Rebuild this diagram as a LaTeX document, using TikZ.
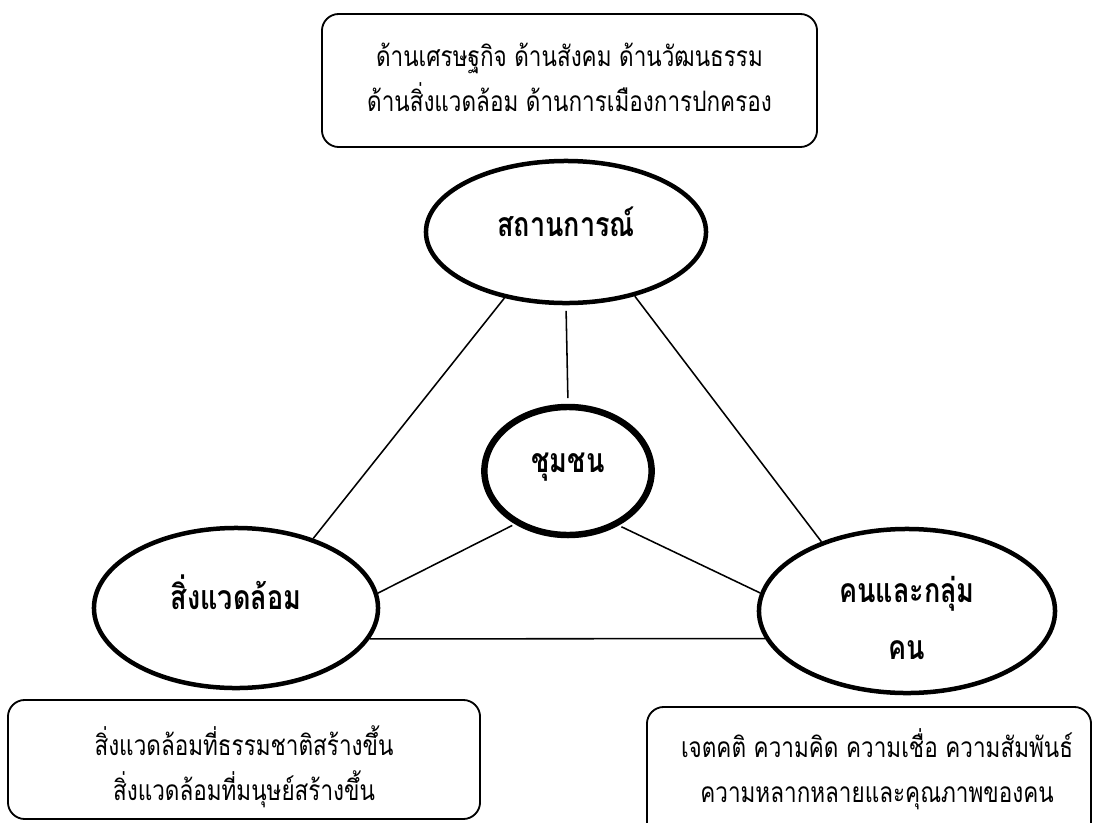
\documentclass[tikz,border=0pt]{standalone}
\usepackage{fontspec}
\setmainfont[Script=Thai,FakeStretch=0.8]{Loma}
\usetikzlibrary{shapes.geometric}

\tikzset{
  oval/.style={draw,ellipse,line width=3.2pt,inner sep=0pt},
  notebox/.style={draw,rounded corners=0.42cm,line width=1.3pt,inner sep=0pt},
  link/.style={line width=1.1pt},
  notetext/.style={align=center,font=\fontsize{20}{32}\selectfont},
  ovaltext/.style={align=center,font=\fontsize{24}{40}\selectfont\bfseries}
}

\begin{document}
\begin{tikzpicture}[x=0.025cm,y=-0.025cm]
\useasboundingbox (0,0) rectangle (1094,823);

\node[notebox,minimum width=12.375cm,minimum height=3.325cm] (fieldbox) at (569.5,80.5) {};
\node[notetext] (fieldtext) at (569.5,77) {ด้านเศรษฐกิจ ด้านสังคม ด้านวัฒนธรรม\\ด้านสิ่งแวดล้อม ด้านการเมืองการปกครอง};

\node[oval,minimum width=7cm,minimum height=3.55cm] (sit) at (566,232) {};
\node[ovaltext] (sittext) at (566,222) {สถานการณ์};

\node[oval,line width=4.6pt,minimum width=4.18cm,minimum height=3.2cm] (com) at (568,471) {};
\node[ovaltext] (comtext) at (568,467) {ชุมชน};

\node[oval,minimum width=7.1cm,minimum height=4cm] (env) at (236,608) {};
\node[ovaltext] (envtext) at (236,592) {สิ่งแวดล้อม};

\node[oval,minimum width=7.4cm,minimum height=4.1cm] (ppl) at (907,611) {};
\node[ovaltext] (ppltext) at (907,618) {คนและกลุ่ม\\คน};

\node[notebox,minimum width=11.8cm,minimum height=2.975cm] (envbox) at (244,759.5) {};
\node[notetext] (envboxtext) at (244,767) {สิ่งแวดล้อมที่ธรรมชาติสร้างขึ้น\\สิ่งแวดล้อมที่มนุษย์สร้างขึ้น};

\node[notebox,minimum width=11.1cm,minimum height=3.325cm] (pplbox) at (869,773.5) {};
\node[notetext] (pplboxtext) at (877,769) {เจตคติ ความคิด ความเชื่อ ความสัมพันธ์\\ความหลากหลายและคุณภาพของคน};

\draw[link] (sit.227) -- (env.42);
\draw[link] (sit.317) -- (ppl.141);
\draw[link,shorten <=4pt,shorten >=4pt] (sit.south) -- (com.north);
\draw[link,shorten <=2pt] (com.225) -- (env.6);
\draw[link,shorten <=2pt] (com.313) -- (ppl.173);
\draw[link] (env.-13) -- (ppl.191);
\end{tikzpicture}
\end{document}
